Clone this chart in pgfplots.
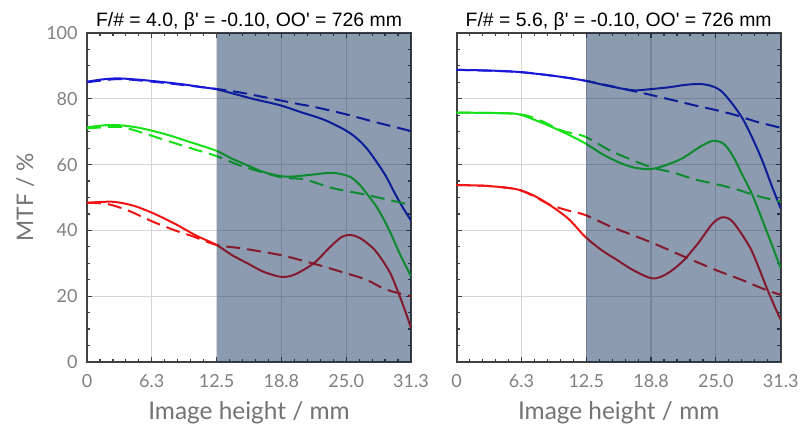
\documentclass[border=0pt]{standalone}
\usepackage{fontspec}
\setmainfont{Lato}
\newfontfamily\titlefont{Liberation Sans}
\usepackage{pgfplots}
\pgfplotsset{compat=1.18}
\definecolor{shadec}{RGB}{0,33,77}
\definecolor{cblue}{RGB}{25,25,215}
\definecolor{cgreen}{RGB}{25,225,25}
\definecolor{cred}{RGB}{240,20,20}
\pgfplotsset{
  mtf/.style={
    width=162pt, height=164.5pt, scale only axis,
    xmin=0, xmax=31.3, ymin=0, ymax=100,
    xtick={0,6.26,12.52,18.78,25.04,31.3},
    xticklabels={0,6.3,12.5,18.8,25.0,31.3},
    ytick={0,20,40,60,80,100},
    minor x tick num=4, minor y tick num=3,
    tick align=inside, major tick length=2.5pt, minor tick length=1.6pt,
    xtick pos=both, ytick pos=both,
    grid=major, major grid style={line width=0.6pt, color=black!16},
    axis line style={line width=0.9pt, black!75},
    every tick/.style={black!75, line width=0.6pt},
    tick label style={font=\fontsize{9}{10}\selectfont, text=black!50, inner sep=0pt},
    xticklabel style={anchor=base, yshift=-13pt},
    yticklabel style={anchor=east, xshift=-4.5pt},
    /pgf/number format/assume math mode=true,
    xlabel={Image height / mm},
    label style={text=black!55},
    xlabel style={font=\fontsize{12.2}{13}\selectfont, at={(axis description cs:0.5,-0.176)}, anchor=base},
    title style={font=\titlefont\fontsize{9.7}{11}\selectfont, at={(axis description cs:0.5,1)}, anchor=base, yshift=-3pt, inner sep=0pt},
    every axis plot/.append style={line width=1pt, smooth, tension=0.5},
  },
  dsh/.style={dash pattern=on 7pt off 3.5pt},
}
\begin{document}
\begin{tikzpicture}
\path[use as bounding box] (0,0) rectangle (400pt,213.5pt);
\begin{axis}[mtf, at={(43.5pt,32.5pt)}, anchor=south west,
  title={F/\# = 4.0, β' = -0.10, OO' = 726 mm},
  ylabel={MTF / \%},
  ylabel style={font=\fontsize{11.4}{12}\selectfont, at={(axis description cs:-0.191,0.5)}, anchor=center}]
\addplot[cblue] coordinates {(0,85.2)(1.5,85.9)(3,86.2)(5,85.8)(7,85.2)(9,84.5)(11,83.6)(12.5,82.9)(14,81.7)(16,80)(18.7,78)(20.6,76)(23,73.5)(25.4,69.6)(27,65)(28.7,57.4)(29.7,51.5)(30.5,47)(31.3,43)};
\addplot[cblue,dsh] coordinates {(0,85)(3,86)(6,85.3)(9,84.3)(12.5,83)(15,81.8)(18.7,79.5)(20.6,78.3)(22,77.5)(25,75.3)(28,72.8)(31.3,70.2)};
\addplot[cgreen] coordinates {(0,71.3)(1.5,71.9)(3,72)(5,71.2)(7.5,69.3)(10,66.8)(12.5,64.2)(14,61.8)(15.4,59.9)(17,57.8)(18.7,56.5)(20,56.4)(21.9,57)(23.8,57.5)(25.4,56.3)(26.3,54)(27,51.3)(27.9,47.5)(28.7,43.2)(29.5,38)(30.2,33)(31.3,26)};
\addplot[cgreen,dsh] coordinates {(0,71)(3,71.5)(4.5,70.5)(7,68)(10,65)(12.5,62.6)(15,59.5)(18.7,56.2)(21,55.5)(23.8,52.8)(27,50.8)(31.3,47.7)};
\addplot[cred] coordinates {(0,48.4)(2.5,48.7)(4.5,47.5)(6.4,45.2)(8.5,42)(10.5,38.5)(12.5,35.6)(14,32.5)(15.5,30)(17,27.5)(18.7,25.9)(20,26.5)(21.9,30)(23.5,35)(24.6,38)(25.4,38.6)(26.3,37.8)(27.5,35)(28.3,32)(29.3,27)(30.1,20.9)(30.8,15)(31.3,10.3)};
\addplot[cred,dsh] coordinates {(0,48.4)(2,48)(4,46)(6.4,42.6)(8.5,40)(10.3,38.1)(12.5,35.6)(15,34.5)(18.7,32.5)(22,29.8)(25,27)(27,25)(28.6,22.4)(30,21)(31.3,20)};
\addplot[draw=none, fill=shadec, fill opacity=0.45, sharp plot] coordinates {(12.52,100)(31.3,100)} \closedcycle;
\end{axis}
\begin{axis}[mtf, at={(228.35pt,32.5pt)}, anchor=south west,
  title={F/\# = 5.6, β' = -0.10, OO' = 726 mm},
  yticklabels={}]
\addplot[cblue] coordinates {(0,88.8)(3,88.6)(5.8,88.2)(8,87.5)(10,86.7)(12.4,85.5)(14.5,84)(17,82.6)(18.6,82.9)(20.5,83.5)(22,84.2)(23.4,84.5)(24.5,84)(25.5,82.5)(26.5,79)(27.6,74.1)(28.5,68.5)(29.5,61.4)(30.5,53)(31.3,46.7)};
\addplot[cblue,dsh] coordinates {(0,88.8)(5.8,88.2)(10,86.7)(12.4,85.5)(15,83.8)(17,82.4)(19,81)(21,79.5)(23,78)(25,76.6)(27,75)(29,73)(31.3,71.2)};
\addplot[cgreen] coordinates {(0,75.8)(3,75.7)(5.8,75.4)(8,73)(10.2,70)(12.4,66.5)(14,63.3)(15.5,60.9)(17,59.2)(18.6,58.6)(20,59.6)(21.8,61.9)(23.3,65)(24.7,67.2)(25.8,66.3)(26.7,62.5)(27.5,57.5)(28.6,50.5)(29.9,40.1)(30.7,33.5)(31.3,28.5)};
\addplot[cgreen,dsh] coordinates {(0,75.8)(5.8,75.4)(8,73.5)(10.2,70.3)(12.4,68.5)(15,64)(18.6,59.4)(21,57.5)(23,55.5)(25,54.1)(27,52.5)(29,50.5)(31.3,48.7)};
\addplot[cred] coordinates {(0,53.8)(3,53.5)(5.8,52.5)(7.5,50.5)(9,47.7)(10.8,43.5)(12.4,38.1)(14,34)(15.5,31)(17,28)(18.9,25.4)(20.3,26.8)(21.8,30.5)(23.3,36)(24.7,42)(25.7,44)(26.7,42.5)(28.3,35)(29.2,28.5)(29.9,22.9)(30.7,17)(31.3,12.8)};
\addplot[cred,dsh] coordinates {(0,53.8)(3,53.5)(5.8,52.5)(7.5,50.3)(9,47.8)(10.8,46)(12.4,44.7)(15,41)(18.6,36.6)(22,32)(25,28)(27.5,25)(29.8,22)(31.3,20.4)};
\addplot[draw=none, fill=shadec, fill opacity=0.45, sharp plot] coordinates {(12.52,100)(31.3,100)} \closedcycle;
\end{axis}
\end{tikzpicture}
\end{document}
